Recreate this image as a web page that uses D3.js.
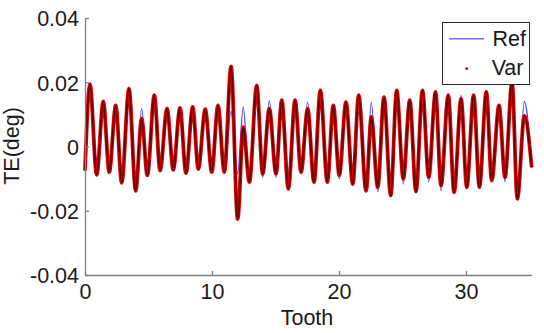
<!DOCTYPE html>
<html>
<head>
<meta charset="utf-8">
<script src="https://cdn.jsdelivr.net/npm/d3@7"></script>
<style>
  html, body { margin: 0; padding: 0; background: #fff; }
  svg { display: block; }
  text { font-family: "Liberation Sans", Arial, Helvetica, sans-serif; fill: #1a1a1a; }
</style>
</head>
<body>
<svg id="chart" width="544" height="333"></svg>
<script>
// ---- data ----
// positions (tooth) of start, alternating peaks/troughs, end
const toothPos = [
  0,
  0.39, 0.92, 1.44, 1.91, 2.42, 2.89, 3.46, 3.99, 4.46, 4.91,
  5.46, 5.91, 6.46, 6.95, 7.48, 7.95, 8.48, 8.92, 9.47, 9.98,
  10.47, 10.97, 11.50, 12.02, 12.46, 12.94, 13.52, 13.99, 14.51, 15.04,
  15.49, 16.01, 16.54, 17.01, 17.53, 18.03, 18.53, 19.08, 19.55, 20.02,
  20.55, 21.08, 21.55, 22.13, 22.54, 23.05, 23.54, 24.07, 24.54, 25.06,
  25.57, 26.06, 26.57, 27.06, 27.60, 28.03, 28.60, 29.06, 29.61, 30.06,
  30.60, 31.05, 31.60, 32.02, 32.60, 33.07, 33.62, 34.04, 34.59,
  35.17
];
const refTE = [
  -0.0075,
  0.0194, -0.0091, 0.0140, -0.0080, 0.0128, -0.0113, 0.0180, -0.0138, 0.0118, -0.0090,
  0.0160, -0.0075, 0.0118, -0.0073, 0.0120, -0.0083, 0.0123, -0.0073, 0.0116, -0.0080,
  0.0128, -0.0080, 0.0110, -0.0085, 0.0123, -0.0111, 0.0190, -0.0096, 0.0142, -0.0096,
  0.0144, -0.0132, 0.0144, -0.0085, 0.0138, -0.0111, 0.0175, -0.0111, 0.0128, -0.0101,
  0.0138, -0.0117, 0.0160, -0.0138, 0.0138, -0.0141, 0.0154, -0.0153, 0.0175, -0.0117,
  0.0144, -0.0140, 0.0175, -0.0111, 0.0170, -0.0138, 0.0160, -0.0143, 0.0160, -0.0132,
  0.0160, -0.0127, 0.0170, -0.0106, 0.0128, -0.0110, 0.0200, -0.0163, 0.0140,
  -0.0065
];
const varTE = [
  -0.0075,
  0.0194, -0.0088, 0.0140, -0.0080, 0.0128, -0.0113, 0.0180, -0.0138, 0.0087, -0.0090,
  0.0160, -0.0075, 0.0118, -0.0073, 0.0120, -0.0083, 0.0123, -0.0070, 0.0116, -0.0080,
  0.0128, -0.0080, 0.0249, -0.0226, 0.0060, -0.0111, 0.0190, -0.0085, 0.0118, -0.0085,
  0.0144, -0.0132, 0.0144, -0.0080, 0.0118, -0.0111, 0.0175, -0.0111, 0.0128, -0.0090,
  0.0138, -0.0117, 0.0160, -0.0138, 0.0092, -0.0127, 0.0154, -0.0153, 0.0175, -0.0101,
  0.0144, -0.0140, 0.0175, -0.0096, 0.0170, -0.0122, 0.0160, -0.0143, 0.0149, -0.0127,
  0.0160, -0.0127, 0.0170, -0.0106, 0.0128, -0.0096, 0.0200, -0.0163, 0.0095,
  -0.0065
];
const xTicks = [0, 10, 20, 30];
const yTicks = [-0.04, -0.02, 0, 0.02, 0.04];
const yTickLabels = ["-0.04", "-0.02", "0", "0.02", "0.04"];
const seriesNames = ["Ref", "Var"];
const xTitle = "Tooth";
const yTitle = "TE(deg)";

// ---- layout ----
const svg = d3.select("#chart");
const pLeft = 85, pRight = 531.7, pTop = 18, pBottom = 275;
const x = d3.scaleLinear().domain([0, d3.max(toothPos)]).range([pLeft, pRight]);
const y = d3.scaleLinear().domain([-0.04, 0.04]).range([pBottom, pTop]);
const axisColor = "#808080";
const fs = 21.5;

// series
const refData = toothPos.map((t, i) => [t, refTE[i]]);
const varData = toothPos.map((t, i) => [t, varTE[i]]);
const line = d3.line().x(d => x(d[0])).y(d => y(d[1])).curve(d3.curveMonotoneX);

svg.append("path").datum(refData).attr("d", line)
  .attr("fill", "none").attr("stroke", "#4a4aff").attr("stroke-width", 1.3);
svg.append("path").datum(varData).attr("d", line)
  .attr("fill", "none").attr("stroke", "#e00000").attr("stroke-width", 3.8)
  .attr("stroke-linejoin", "round");
svg.append("path").datum(varData).attr("d", line)
  .attr("fill", "none").attr("stroke", "#6a0000").attr("stroke-width", 1.8)
  .attr("stroke-linejoin", "round");

// axes
const xAxis = d3.axisBottom(x).tickValues(xTicks).tickSizeInner(-4).tickSizeOuter(0).tickPadding(9);
const yAxis = d3.axisLeft(y).tickValues(yTicks).tickSizeInner(-4).tickSizeOuter(0).tickPadding(6)
  .tickFormat((d, i) => yTickLabels[i]);

const gx = svg.append("g").attr("transform", `translate(0,${pBottom})`).call(xAxis);
const gy = svg.append("g").attr("transform", `translate(${pLeft},0)`).call(yAxis);
[gx, gy].forEach(g => {
  g.select(".domain").attr("stroke", axisColor).attr("stroke-width", 1.3);
  g.selectAll(".tick line").attr("stroke", axisColor).attr("stroke-width", 1.3);
  g.selectAll(".tick text").attr("font-size", fs).attr("font-family", "Liberation Sans, Arial, sans-serif").attr("fill", "#1a1a1a");
});
gx.selectAll(".tick text").attr("dy", "0.71em");
gy.selectAll(".tick text").attr("dy", "0.36em");

// titles
svg.append("text").attr("x", 307).attr("y", 325).attr("text-anchor", "middle")
  .attr("font-size", fs).text(xTitle);
svg.append("text").attr("transform", "translate(19,146) rotate(-90)")
  .attr("text-anchor", "middle").attr("font-size", fs).text(yTitle);

// legend
const lg = svg.append("g");
lg.append("rect").attr("x", 442.5).attr("y", 22.5).attr("width", 87).attr("height", 62)
  .attr("fill", "#fff").attr("stroke", "#2a2a2a").attr("stroke-width", 1);
lg.append("line").attr("x1", 449).attr("x2", 484).attr("y1", 38.7).attr("y2", 38.7)
  .attr("stroke", "#6b6bff").attr("stroke-width", 1.6);
lg.append("circle").attr("cx", 466.7).attr("cy", 68.7).attr("r", 1.4).attr("fill", "#d00000");
lg.append("text").attr("x", 526).attr("y", 38.7).attr("dy", "0.36em").attr("text-anchor", "end")
  .attr("font-size", fs).text(seriesNames[0]);
lg.append("text").attr("x", 523.5).attr("y", 67.5).attr("dy", "0.36em").attr("text-anchor", "end")
  .attr("font-size", fs).text(seriesNames[1]);
</script>
</body>
</html>
